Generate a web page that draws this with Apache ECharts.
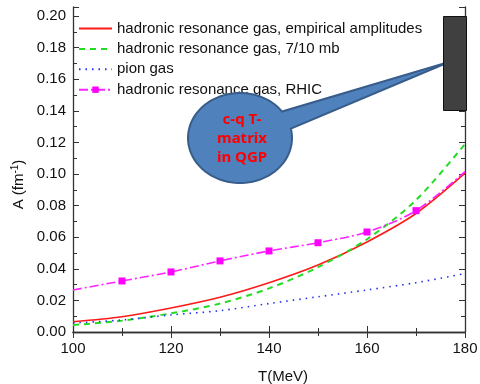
<!DOCTYPE html>
<html><head><meta charset="utf-8">
<script src="https://cdn.jsdelivr.net/npm/echarts@6/dist/echarts.min.js"></script>
<style>html,body{margin:0;padding:0;background:#fff}#c{width:480px;height:384px}</style>
</head><body><div id="c"></div>
<script>
const temps = [100,110,120,130,140,150,160,170,180];
const redVals = [0.0065,0.0097,0.0152,0.0220,0.0312,0.0424,0.0570,0.0750,0.1005];
const greenVals = [0.0044,0.0072,0.0118,0.0180,0.0276,0.0410,0.0587,0.0835,0.1190];
const blueVals = [0.0057,0.0076,0.0108,0.0135,0.0180,0.0223,0.0266,0.0312,0.0370];
const magentaVals = [0.0266,0.0323,0.0380,0.0450,0.0513,0.0565,0.0633,0.0768,0.1015];
const magentaMarked = [false,true,true,true,true,true,true,true,false];
const seriesNames = ['hadronic resonance gas, empirical amplitudes','hadronic resonance gas, 7/10 mb','pion gas','hadronic resonance gas, RHIC'];
const xTicks = [100,120,140,160,180];
const yTicks = [0,0.02,0.04,0.06,0.08,0.10,0.12,0.14,0.16,0.18,0.20];

const pair = (vals) => temps.map((t,i)=>[t, vals[i]]);
const chart = echarts.init(document.getElementById('c'), null, {renderer:'canvas'});
const axisCol = '#333';
const font = 'Liberation Sans, Arial, sans-serif';

// callout polygon (annotation shape)
const cx=240, cy=138, rx=52, ry=45;
const pts=[];
for(let d=-12; d<=326; d+=4){const t=d*Math.PI/180; pts.push([cx+rx*Math.cos(t), cy+ry*Math.sin(t)]);}
pts.push([449,62]);

const xAxisBase = {type:'value', min:xTicks[0], max:xTicks[xTicks.length-1], interval:20,
  axisLine:{show:true,lineStyle:{color:axisCol,width:1.3}},
  axisTick:{show:true,inside:true,length:6,lineStyle:{color:axisCol}},
  minorTick:{show:true,splitNumber:2,length:4,lineStyle:{color:axisCol}},
  splitLine:{show:false}};
const yAxisBase = {type:'value', min:yTicks[0], max:0.2057, interval:0.02,
  axisLine:{show:true,lineStyle:{color:axisCol,width:1.3}},
  axisTick:{show:true,inside:true,length:6,lineStyle:{color:axisCol}},
  minorTick:{show:true,splitNumber:2,length:4,lineStyle:{color:axisCol}},
  splitLine:{show:false}};

const hide = {color:'rgba(0,0,0,0)', borderWidth:0};
chart.setOption({
  animation:false,
  grid:{left:73,right:15,top:7,bottom:52,containLabel:false,outerBoundsMode:'none'},
  legend:{show:true, orient:'vertical', left:73, top:16, itemWidth:33, itemHeight:8, itemGap:5.4,
    textStyle:{fontFamily:font,fontSize:15,color:'#111'},
    data:[{name:seriesNames[0],itemStyle:hide},{name:seriesNames[1],itemStyle:hide},
          {name:seriesNames[2],itemStyle:hide},{name:seriesNames[3]}]},
  xAxis:[
    Object.assign({}, xAxisBase, {position:'bottom', name:'T(MeV)', nameLocation:'middle', nameGap:37,
      nameTextStyle:{fontFamily:font,fontSize:15,color:'#111',padding:[0,0,0,28]},
      axisLabel:{fontFamily:font,fontSize:15,color:'#111',margin:9}}),
    Object.assign({}, xAxisBase, {position:'top', axisLabel:{show:false}})
  ],
  yAxis:[
    Object.assign({}, yAxisBase, {position:'left', name:'A (fm{s|-1})', nameLocation:'middle', nameGap:45,
      nameTextStyle:{fontFamily:font,fontSize:15,color:'#111',padding:[0,30,0,0],
        rich:{s:{fontFamily:font,fontSize:10,color:'#111',verticalAlign:'top',padding:[0,0,6,0]}}},
      axisLabel:{fontFamily:font,fontSize:15,color:'#111',margin:7,
        formatter:(v)=>{const k=Math.round(v/0.02); return Math.abs(k*0.02-v)<1e-6 ? v.toFixed(2) : '';}}}),
    Object.assign({}, yAxisBase, {position:'right', axisLabel:{show:false}})
  ],
  series:[
    {name:seriesNames[0], type:'line', data:pair(redVals), smooth:0.3, symbol:'none',
      lineStyle:{color:'#ff1a1a',width:1.6}, itemStyle:{color:'#ff1a1a'}},
    {name:seriesNames[1], type:'line', data:pair(greenVals), smooth:0.3, symbol:'none',
      lineStyle:{color:'#22dd22',width:2,type:[6,5]}, itemStyle:{color:'#22dd22'}},
    {name:seriesNames[2], type:'line', data:pair(blueVals), smooth:0.3, symbol:'none',
      lineStyle:{color:'#2233ee',width:1.6,type:[1.5,5]}, itemStyle:{color:'#2233ee'}},
    {name:seriesNames[3], type:'line', smooth:0.3, symbol:'rect', symbolSize:7,
      data:temps.map((t,i)=> magentaMarked[i] ? {value:[t,magentaVals[i]]} : {value:[t,magentaVals[i]], symbol:'none'}),
      lineStyle:{color:'#ff22ff',width:1.6,type:[9,3,2,3]}, itemStyle:{color:'#ff00ff'}}
  ],
  graphic:[
    {type:'polygon', z:100, shape:{points:pts}, style:{fill:'#4f81bd', stroke:'#385d8a', lineWidth:2}},
    {type:'text', z:101, position:[242,139], style:{text:'c-q T-\nmatrix\nin QGP', fill:'#ff0000',
      font:'bold 15px "Noto Sans", "Liberation Sans", sans-serif', textAlign:'center', textVerticalAlign:'middle', lineHeight:19}},
    {type:'rect', z:100, shape:{x:443.5,y:16.5,width:23,height:94}, style:{fill:'#404040', stroke:'#111', lineWidth:1}}
  ]
});
</script></body></html>
